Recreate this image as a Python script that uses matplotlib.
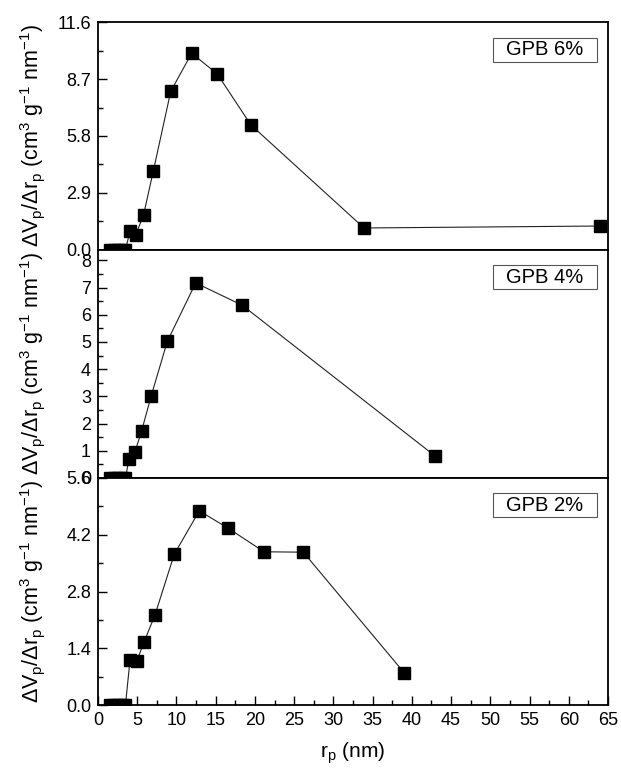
import matplotlib
matplotlib.use("Agg")
import matplotlib.pyplot as plt
from matplotlib.ticker import MultipleLocator, FixedLocator
from matplotlib.patches import Rectangle

plt.rcParams['font.family'] = ['Liberation Sans', 'DejaVu Sans']
plt.rcParams['mathtext.fontset'] = 'custom'
plt.rcParams['mathtext.rm'] = 'Liberation Sans'
plt.rcParams['mathtext.it'] = 'Liberation Sans'

# ---- data ----
x_gpb6 = [1.5, 2.0, 2.5, 3.0, 3.5, 4.1, 4.8, 5.8, 7.05, 9.27, 11.94, 15.2, 19.5, 33.9, 64.0]
y_gpb6 = [0, 0, 0, 0, 0, 0.95, 0.74, 1.76, 4.01, 8.08, 10.03, 8.97, 6.36, 1.10, 1.20]

x_gpb4 = [1.5, 2.0, 2.5, 3.0, 3.5, 3.95, 4.72, 5.57, 6.76, 8.83, 12.45, 18.39, 42.95]
y_gpb4 = [0, 0, 0, 0, 0, 0.70, 0.97, 1.74, 3.00, 5.02, 7.17, 6.35, 0.81]

x_gpb2 = [1.5, 2.0, 2.5, 3.0, 3.5, 4.08, 4.95, 5.86, 7.26, 9.72, 12.91, 16.6, 21.16, 26.17, 39.0]
y_gpb2 = [0, 0, 0, 0, 0, 1.11, 1.085, 1.55, 2.22, 3.72, 4.79, 4.36, 3.78, 3.77, 0.80]

labels = ["GPB 6%", "GPB 4%", "GPB 2%"]
y_ticks_6 = [0.0, 2.9, 5.8, 8.7, 11.6]
y_ticks_4 = [0, 1, 2, 3, 4, 5, 6, 7, 8]
y_ticks_2 = [0.0, 1.4, 2.8, 4.2, 5.6]
x_ticks = list(range(0, 70, 5))

W, H = 621, 776
fig = plt.figure(figsize=(W / 100, H / 100), dpi=100)

left = 98 / W
width = (608 - 98) / W
bounds_px = [(22.5, 249.5), (249.5, 478), (478, 705)]

series = [(x_gpb6, y_gpb6), (x_gpb4, y_gpb4), (x_gpb2, y_gpb2)]
ylims = [(0, 11.6), (0, 8.4), (0, 5.6)]
yticks = [y_ticks_6, y_ticks_4, y_ticks_2]
yfmt = ["{:.1f}", "{:.0f}", "{:.1f}"]
yminor = [1.45, 0.5, 0.7]

ylabel = r'$\Delta$V$_\mathregular{p}$/$\Delta$r$_\mathregular{p}$ (cm$^\mathregular{3}$ g$^\mathregular{-1}$ nm$^\mathregular{-1}$)'

axes = []
for i, ((top, bot), (xs, ys)) in enumerate(zip(bounds_px, series)):
    ax = fig.add_axes([left, 1 - bot / H, width, (bot - top) / H])
    axes.append(ax)
    ax.plot(xs, ys, '-', color='#222222', lw=0.8, marker='s', ms=8,
            mfc='black', mec='black', zorder=3)
    ax.set_xlim(0, 65)
    ax.set_ylim(*ylims[i])
    ax.yaxis.set_major_locator(FixedLocator(yticks[i]))
    ax.set_yticklabels([yfmt[i].format(v) for v in yticks[i]])
    ax.yaxis.set_minor_locator(MultipleLocator(yminor[i]))
    ax.xaxis.set_major_locator(FixedLocator(x_ticks))
    ax.xaxis.set_minor_locator(MultipleLocator(2.5))
    for s in ax.spines.values():
        s.set_linewidth(1.3)
    ax.tick_params(axis='both', which='major', direction='in', length=6.5, width=1.0,
                   labelsize=13, top=False, right=False, pad=5)
    ax.tick_params(axis='both', which='minor', direction='in', length=3.3, width=1.0,
                   top=False, right=False)
    if i < 2:
        ax.tick_params(axis='x', which='both', bottom=False, labelbottom=False)
    ax.set_ylabel(ylabel, fontsize=15.5)
    ax.yaxis.set_label_coords(-0.1, 0.5)
    ax.add_patch(Rectangle((0.775, 0.826), 0.203, 0.106, transform=ax.transAxes,
                           fc='white', ec='#555555', lw=0.8, zorder=4))
    ax.text(0.8765, 0.879, labels[i], transform=ax.transAxes, ha='center', va='center',
            fontsize=14.5, zorder=5)

axes[2].set_xlabel(r'r$_\mathregular{p}$ (nm)', fontsize=15, labelpad=8)

fig.savefig("out.png", dpi=100)
